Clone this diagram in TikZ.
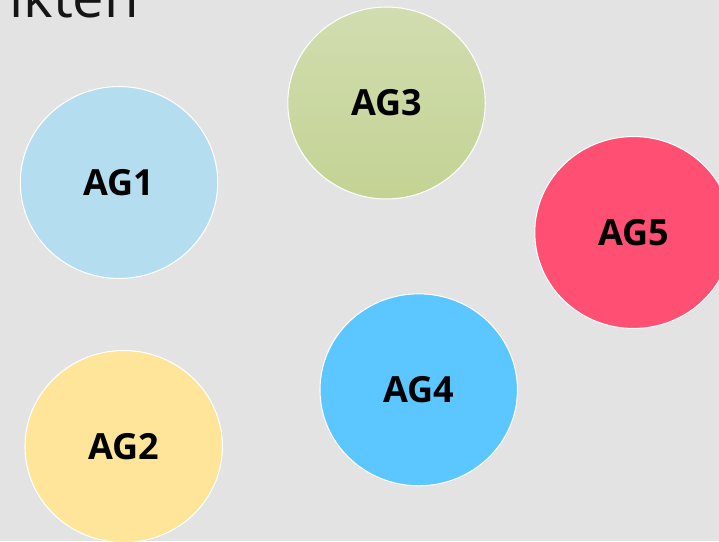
\documentclass[tikz,border=0pt]{standalone}
\usepackage{fontspec}
\setmainfont{Open Sans}
\usetikzlibrary{shapes.geometric}
\definecolor{bgGray}{HTML}{E3E3E3}
\definecolor{agBlueLight}{HTML}{B4DEF0}
\definecolor{agGreenTop}{HTML}{D1DDB0}
\definecolor{agGreenBot}{HTML}{C3D393}
\definecolor{agRed}{HTML}{FF4F73}
\definecolor{agBlue}{HTML}{5BC6FF}
\definecolor{agYellow}{HTML}{FFE599}
\definecolor{titleGray}{HTML}{151515}
\begin{document}
\begin{tikzpicture}[x=0.02cm, y=-0.02cm,
  ag/.style={ellipse, draw=white, line width=0.6pt, minimum width=3.95cm,
    minimum height=3.84cm, inner sep=0pt, font=\fontsize{20.5}{24}\selectfont\bfseries}]
\useasboundingbox (0,0) rectangle (719,541);
\fill[bgGray] (0,0) rectangle (719,541);
\clip (0,0) rectangle (719,541);

\node[anchor=base west, inner sep=0pt, text=titleGray, font=\fontsize{32}{36}\selectfont] (title) at (9,17.5) {ikten};

\node[ag, fill=agBlueLight] (ag1) at (119,182.5) {AG1};
\node[ag, fill=agYellow] (ag2) at (123.7,446.5) {AG2};
\node[ag, top color=agGreenTop, bottom color=agGreenBot] (ag3) at (386.5,103) {AG3};
\node[ag, fill=agBlue] (ag4) at (418.7,389.8) {AG4};
\node[ag, fill=agRed] (ag5) at (633.5,232.5) {AG5};
\end{tikzpicture}
\end{document}
